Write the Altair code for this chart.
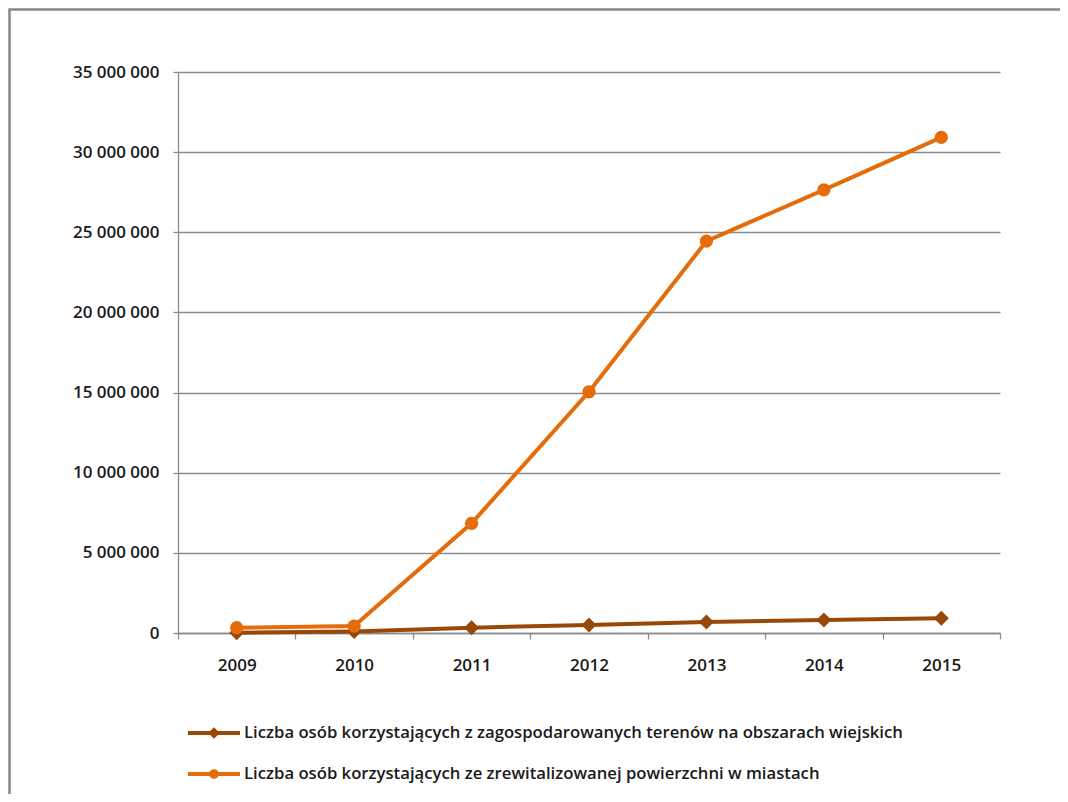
import altair as alt
import pandas as pd

years = ["2009", "2010", "2011", "2012", "2013", "2014", "2015"]
rural = [20000, 100000, 330000, 500000, 690000, 810000, 920000]
urban = [330000, 430000, 6840000, 15050000, 24450000, 27650000, 30920000]
s_rural = "Liczba osób korzystających z zagospodarowanych terenów na obszarach wiejskich"
s_urban = "Liczba osób korzystających ze zrewitalizowanej powierzchni w miastach"
series_names = [s_rural, s_urban]
series_colors = ["#984807", "#E46C0A"]
y_ticks = [0, 5000000, 10000000, 15000000, 20000000, 25000000, 30000000, 35000000]

rows = []
for yr, r, u in zip(years, rural, urban):
    rows.append({"rok": yr, "seria": s_rural, "wartosc": r})
    rows.append({"rok": yr, "seria": s_urban, "wartosc": u})
df = pd.DataFrame(rows)

W, H = 822, 561
FONT = "Open Sans"
TXT = "#1a1a1a"
GRAY = "#8a8a8a"

# legend symbols: a short line with a small marker (custom SVG paths)
line_path = "M-4.2,0L1,0"
diamond_path = "M-1.9,0L-1.6,-0.3L-1.3,0L-1.6,0.3Z"
circle_path = "M-1.88,0A0.28,0.28 0 1,0 -1.32,0A0.28,0.28 0 1,0 -1.88,0Z"
legend_shapes = [line_path + diamond_path, line_path + circle_path]

legend = alt.Legend(
    title=None,
    orient="none",
    legendX=40,
    legendY=649,
    direction="vertical",
    padding=0,
    symbolSize=400,
    symbolStrokeWidth=4,
    symbolOpacity=1,
    labelOffset=2,
    rowPadding=18,
    labelFont=FONT,
    labelFontSize=16.7,
    labelFontWeight=600,
    labelColor=TXT,
    labelLimit=2000,
)

x_enc = alt.X(
    "rok:O",
    title=None,
    scale=alt.Scale(type="band", paddingInner=0, paddingOuter=0),
    axis=alt.Axis(
        labelAngle=0, tickBand="extent", ticks=True, tickSize=6, tickColor=GRAY,
        tickWidth=1.3, domainColor=GRAY, domainWidth=1.3, grid=False,
        labelFont=FONT, labelFontSize=17, labelFontWeight=600, labelColor=TXT,
        labelPadding=18,
    ),
)
y_enc = alt.Y(
    "wartosc:Q",
    title=None,
    scale=alt.Scale(domain=[0, 35000000], nice=False),
    axis=alt.Axis(
        values=y_ticks, format=",d", grid=True, gridColor=GRAY, gridWidth=1.3,
        tickSize=5, tickColor=GRAY, tickWidth=1.3, domainColor=GRAY, domainWidth=1.3,
        labelFont=FONT, labelFontSize=17, labelFontWeight=600, labelColor=TXT,
        labelPadding=14,
    ),
)

base = alt.Chart(df).encode(
    x=x_enc,
    y=y_enc,
    color=alt.Color("seria:N", scale=alt.Scale(domain=series_names, range=series_colors), legend=None),
)

rural_line = base.transform_filter(alt.datum.seria == s_rural).mark_line(strokeWidth=4)
rural_pts = base.transform_filter(alt.datum.seria == s_rural).mark_point(
    filled=True, shape="diamond", size=225, opacity=1)
urban_line = base.transform_filter(alt.datum.seria == s_urban).mark_line(strokeWidth=4)
urban_pts = base.transform_filter(alt.datum.seria == s_urban).mark_point(
    filled=True, shape="circle", size=175, opacity=1)

# legend carrier: invisible marks, only provides the legend
legend_layer = alt.Chart(df).mark_point(
    size=400, strokeWidth=4, opacity=0
).encode(
    x=x_enc,
    y=y_enc,
    fill=alt.Fill("seria:N", scale=alt.Scale(domain=series_names, range=series_colors), legend=legend),
    stroke=alt.Stroke("seria:N", scale=alt.Scale(domain=series_names, range=series_colors), legend=legend),
    shape=alt.Shape("seria:N", scale=alt.Scale(domain=series_names, range=legend_shapes), legend=legend),
)

frame = alt.Chart(pd.DataFrame({"k": [0]})).mark_rect(
    fill="transparent", stroke="#888888", strokeWidth=2.5
).encode(
    x=alt.value(-168.5), x2=alt.value(W + 300),
    y=alt.value(-62.5), y2=alt.value(H + 400),
)

chart = alt.layer(legend_layer, frame, rural_line, rural_pts, urban_line, urban_pts).properties(
    width=W,
    height=H,
    autosize=alt.AutoSizeParams(type="none"),
    padding={"left": 170, "top": 64, "right": 60, "bottom": 161},
).configure(
    locale={"number": {"decimal": ",", "thousands": " ", "grouping": [3], "currency": ["", " zł"]}}
).configure_view(stroke="transparent")

chart.save("out.html", embed_options={"renderer": "svg", "actions": False})
